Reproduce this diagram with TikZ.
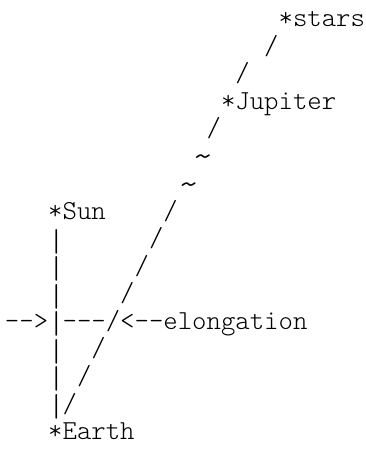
\documentclass[tikz,border=0pt]{standalone}
\usepackage{fontspec}
\setmonofont{Latin Modern Mono Light}
\begin{document}
\begin{tikzpicture}[x=1pt,y=1pt,
  asc/.style={anchor=base west,inner sep=0pt,outer sep=0pt,font=\fontsize{27.43}{27.43}\selectfont\ttfamily}]
\useasboundingbox (0,0) rectangle (366,453);
\def\cw{14.4}
\def\rowy#1{453-27-27.5*(#1-1)}
\newcommand\vbar{\raisebox{-0.25em}{\resizebox*{!}{0.9em}{\raisebox{\depth}{|}}}}
\newcommand\tld{\raisebox{-0.12em}{\scalebox{1.5}[1.3]{\textasciitilde}}}
\node[asc] (stars) at ({5+\cw*19},{\rowy{1}}) {*stars};
\node[asc] (s2) at ({5+\cw*18},{\rowy{2}}) {/};
\node[asc] (s3) at ({5+\cw*16},{\rowy{3}}) {/};
\node[asc] (jupiter) at ({5+\cw*15},{\rowy{4}}) {*Jupiter};
\node[asc] (s5) at ({5+\cw*14},{\rowy{5}}) {/};
\node[asc] (t6) at ({5+\cw*13},{\rowy{6}}) {\tld};
\node[asc] (t7) at ({5+\cw*12},{\rowy{7}}) {\tld};
\node[asc] (sun) at ({5+\cw*3},{\rowy{8}}) {*Sun};
\node[asc] (s8) at ({5+\cw*11},{\rowy{8}}) {/};
\node[asc] (b9) at ({5+\cw*3},{\rowy{9}}) {\vbar};
\node[asc] (s9) at ({5+\cw*10},{\rowy{9}}) {/};
\node[asc] (b10) at ({5+\cw*3},{\rowy{10}}) {\vbar};
\node[asc] (s10) at ({5+\cw*9},{\rowy{10}}) {/};
\node[asc] (b11) at ({5+\cw*3},{\rowy{11}}) {\vbar};
\node[asc] (s11) at ({5+\cw*8},{\rowy{11}}) {/};
\node[asc] (arr) at ({5+\cw*0},{\rowy{12}}) {-{}->};
\node[asc] (b12) at ({5+\cw*3},{\rowy{12}}) {\vbar};
\node[asc] (elong) at ({5+\cw*4},{\rowy{12}}) {-{}-{}-/<-{}-elongation};
\node[asc] (b13) at ({5+\cw*3},{\rowy{13}}) {\vbar};
\node[asc] (s13) at ({5+\cw*6},{\rowy{13}}) {/};
\node[asc] (b14) at ({5+\cw*3},{\rowy{14}}) {\vbar};
\node[asc] (s14) at ({5+\cw*5},{\rowy{14}}) {/};
\node[asc] (b15) at ({5+\cw*3},{\rowy{15}}) {\vbar};
\node[asc] (s15) at ({5+\cw*4},{\rowy{15}}) {/};
\node[asc] (earth) at ({5+\cw*3},{\rowy{16}}) {*Earth};
\end{tikzpicture}
\end{document}
